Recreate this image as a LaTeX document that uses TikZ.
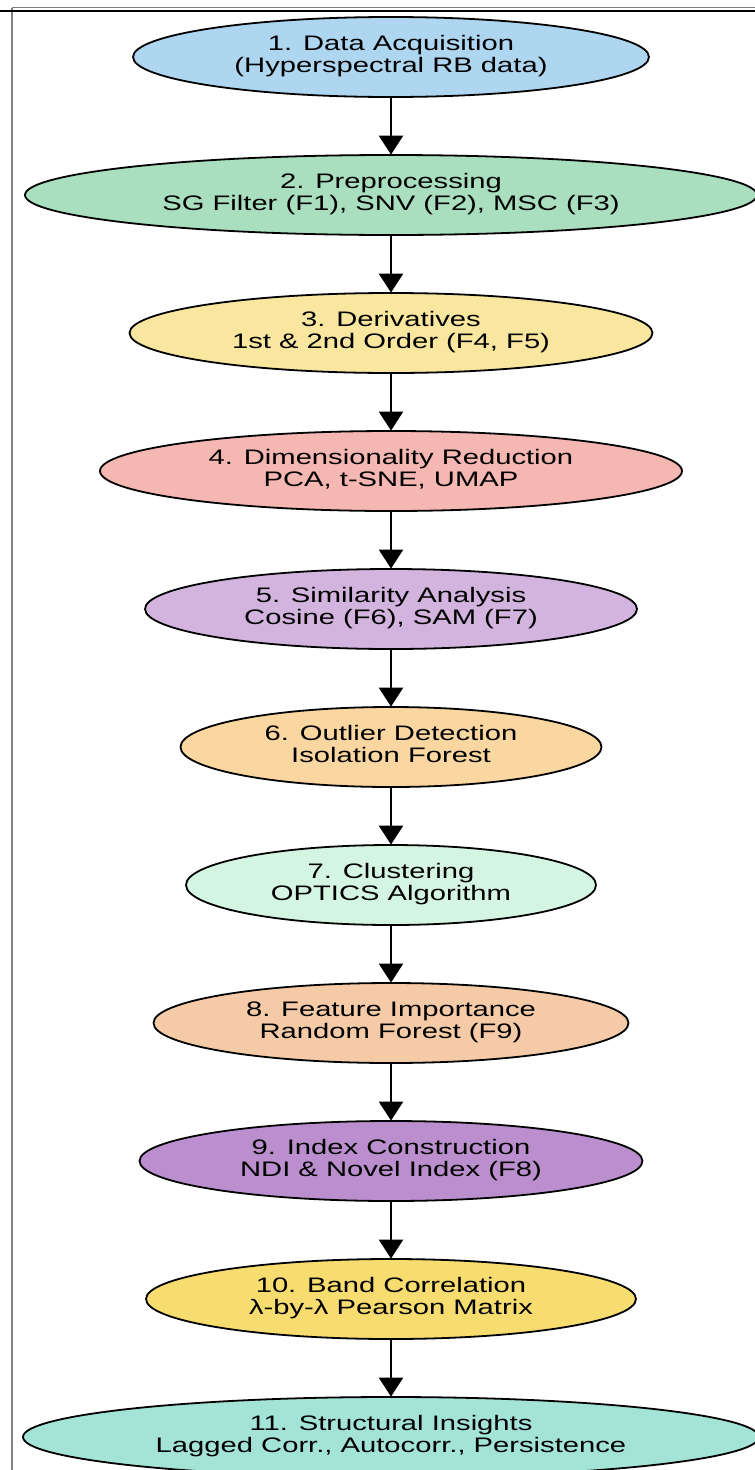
\documentclass[tikz,border=0pt]{standalone}
\usepackage{fontspec}
\setmainfont{Liberation Sans}
\usetikzlibrary{shapes.geometric,arrows.meta}
\definecolor{c1}{HTML}{AED6F1}
\definecolor{c2}{HTML}{A9DFBF}
\definecolor{c3}{HTML}{F9E79F}
\definecolor{c4}{HTML}{F5B7B1}
\definecolor{c5}{HTML}{D2B4DE}
\definecolor{c6}{HTML}{FAD7A0}
\definecolor{c7}{HTML}{D5F5E3}
\definecolor{c8}{HTML}{F5CBA7}
\definecolor{c9}{HTML}{BB8FCE}
\definecolor{c10}{HTML}{F7DC6F}
\definecolor{c11}{HTML}{A3E4D7}
\newcommand{\lbl}[2]{\scalebox{1.39}[1]{\fontsize{21}{22}\selectfont\begin{tabular}{@{}c@{}}#1\\#2\end{tabular}}}
\tikzset{
  stage/.style={ellipse, draw=black, line width=1.8pt, inner sep=0pt, minimum height=80pt, text=black},
  flow/.style={line width=2.5pt, -{Triangle[width=24pt,length=19pt]}, shorten >=-0.5pt}
}
\begin{document}
\begin{tikzpicture}[x=1pt,y=-1pt]
\useasboundingbox (0,0) rectangle (755,1470);
\fill[white] (0,0) rectangle (755,1470);
\draw[gray, line width=1.5pt] (12,7.5) -- (755,7.5);
\draw[gray, line width=1.5pt] (12,7.5) -- (12,1470);
\draw[black, line width=2pt] (0,11) -- (755,11);
\node[stage, fill=c1, minimum width=516pt] (n1) at (391,57) {\lbl{1. Data Acquisition}{(Hyperspectral RB data)}};
\node[stage, fill=c2, minimum width=732pt] (n2) at (391,195) {\lbl{2. Preprocessing}{SG Filter (F1), SNV (F2), MSC (F3)}};
\node[stage, fill=c3, minimum width=523pt] (n3) at (391,333) {\lbl{3. Derivatives}{1st \& 2nd Order (F4, F5)}};
\node[stage, fill=c4, minimum width=582pt] (n4) at (391,471) {\lbl{4. Dimensionality Reduction}{PCA, t-SNE, UMAP}};
\node[stage, fill=c5, minimum width=492pt] (n5) at (391,609) {\lbl{5. Similarity Analysis}{Cosine (F6), SAM (F7)}};
\node[stage, fill=c6, minimum width=421pt] (n6) at (391,747) {\lbl{6. Outlier Detection}{Isolation Forest}};
\node[stage, fill=c7, minimum width=410pt] (n7) at (391,885) {\lbl{7. Clustering}{OPTICS Algorithm}};
\node[stage, fill=c8, minimum width=475pt] (n8) at (391,1023) {\lbl{8. Feature Importance}{Random Forest (F9)}};
\node[stage, fill=c9, minimum width=503pt] (n9) at (391,1161) {\lbl{9. Index Construction}{NDI \& Novel Index (F8)}};
\node[stage, fill=c10, minimum width=490pt] (n10) at (391,1299) {\lbl{10. Band Correlation}{λ-by-λ Pearson Matrix}};
\node[stage, fill=c11, minimum width=736pt] (n11) at (391,1437) {\lbl{11. Structural Insights}{Lagged Corr., Autocorr., Persistence}};
\foreach \a/\b in {n1/n2,n2/n3,n3/n4,n4/n5,n5/n6,n6/n7,n7/n8,n8/n9,n9/n10,n10/n11}
  \draw[flow] (\a) -- (\b);
\end{tikzpicture}
\end{document}
